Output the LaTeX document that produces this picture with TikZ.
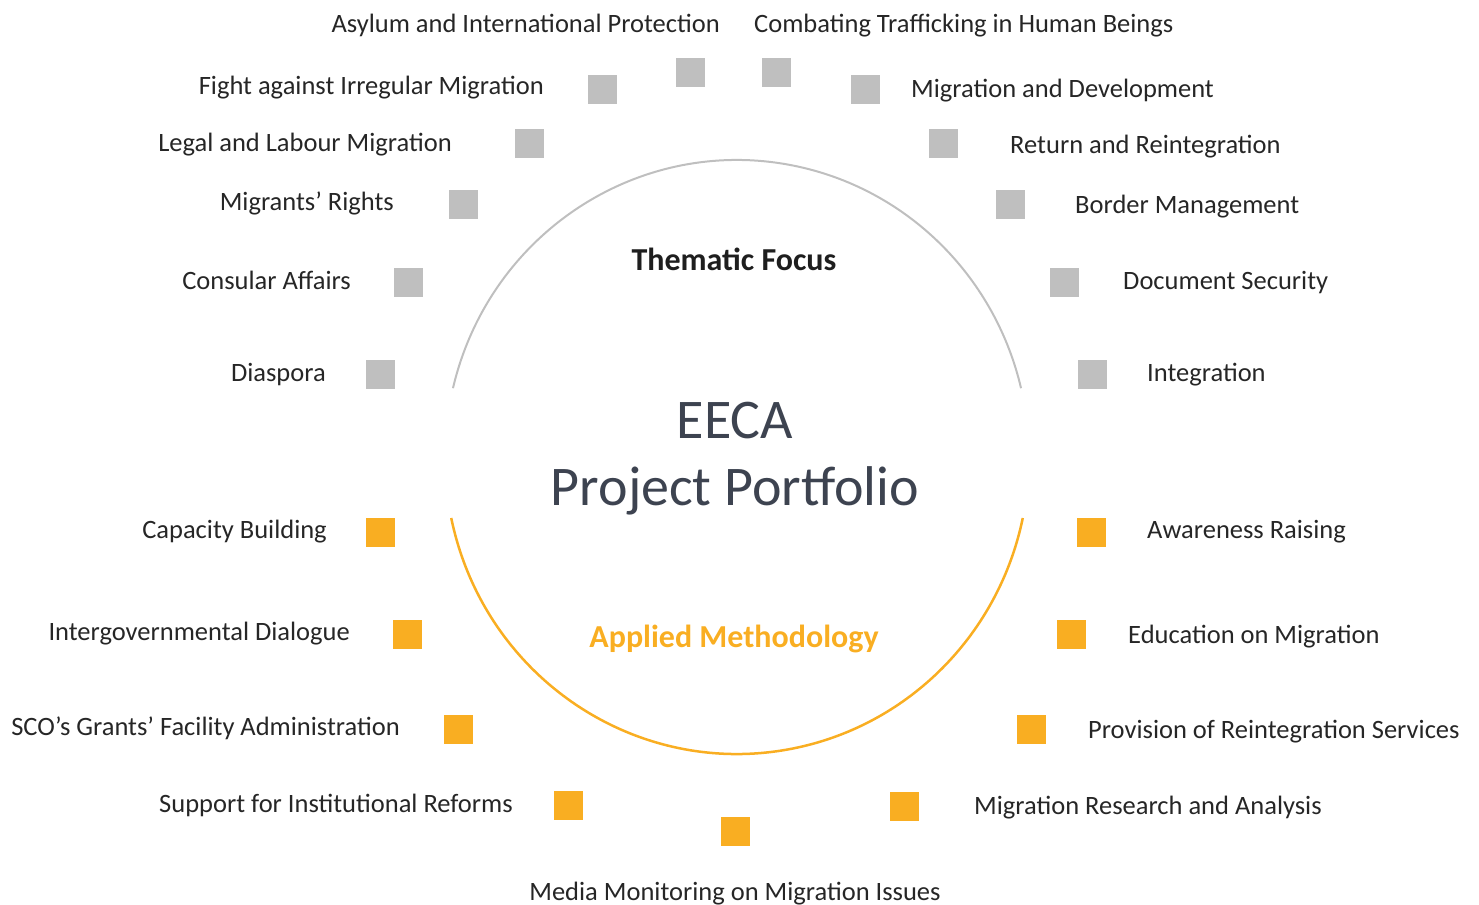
\documentclass[tikz,border=0pt]{standalone}
\usepackage{fontspec}
\setmainfont{Carlito}
\definecolor{sqgray}{HTML}{BFBFBF}
\definecolor{sqorange}{HTML}{F9AE22}
\definecolor{lblcol}{HTML}{262626}
\definecolor{midcol}{HTML}{3D4350}
\begin{document}
\begin{tikzpicture}[x=1pt,y=-1pt,
  lbl/.style={font=\fontsize{26.5}{30}\selectfont, text=lblcol, inner sep=0pt},
  gsq/.style={fill=sqgray, minimum size=29pt, inner sep=0pt, draw=none},
  osq/.style={fill=sqorange, minimum size=29pt, inner sep=0pt, draw=none},
  ttl/.style={font=\fontsize{32}{36}\selectfont\bfseries, inner sep=0pt}]
\useasboundingbox (0,0) rectangle (1479,904);
\coordinate (c) at (737,457);
% arcs
\draw[sqgray, line width=2pt] (c) ++(193.4:292 and 297) arc[start angle=193.4, end angle=346.6, x radius=292, y radius=297];
\draw[sqorange, line width=2.5pt] (c) ++(168.15:292 and 297) arc[start angle=168.15, end angle=11.85, x radius=292, y radius=297];
% center texts
\node[ttl, text=lblcol!80!black, anchor=base] (tf) at (734,270) {Thematic Focus};
\node[font=\fontsize{56}{60}\selectfont, text=midcol, inner sep=0pt, anchor=base] (eeca) at (735,438) {EECA};
\node[font=\fontsize{56}{60}\selectfont, text=midcol, inner sep=0pt, anchor=base] (pp) at (735,505) {Project Portfolio};
\node[ttl, text=sqorange, anchor=base] (am) at (734,647) {Applied Methodology};
% gray squares
\node[gsq] (s1) at (690,73) {};
\node[gsq] (s2) at (776,73) {};
\node[gsq] (s3) at (602,90) {};
\node[gsq] (s4) at (865,90) {};
\node[gsq] (s5) at (529,144) {};
\node[gsq] (s6) at (943,144) {};
\node[gsq] (s7) at (463,204) {};
\node[gsq] (s8) at (1010,204) {};
\node[gsq] (s9) at (408,282) {};
\node[gsq] (s10) at (1064,282) {};
\node[gsq] (s11) at (380,374) {};
\node[gsq] (s12) at (1092,374) {};
% orange squares
\node[osq] (o1) at (380,532) {};
\node[osq] (o2) at (1091,532) {};
\node[osq] (o3) at (407,634) {};
\node[osq] (o4) at (1071,634) {};
\node[osq] (o5) at (458,729) {};
\node[osq] (o6) at (1031,729) {};
\node[osq] (o7) at (568,805) {};
\node[osq] (o8) at (904,806) {};
\node[osq] (o9) at (735,831) {};
% labels
\node[lbl, anchor=base east] (l1) at (720,32.5) {Asylum and International Protection};
\node[lbl, anchor=base west] (l2) at (754,32.5) {Combating Trafficking in Human Beings};
\node[lbl, anchor=base east] (l3) at (544,94.5) {Fight against Irregular Migration};
\node[lbl, anchor=base west] (l4) at (911,97.5) {Migration and Development};
\node[lbl, anchor=base east] (l5) at (452,151.5) {Legal and Labour Migration};
\node[lbl, anchor=base west] (l6) at (1010,153.5) {Return and Reintegration};
\node[lbl, anchor=base east] (l7) at (394,210.5) {Migrants’ Rights};
\node[lbl, anchor=base west] (l8) at (1075,213.5) {Border Management};
\node[lbl, anchor=base east] (l9) at (351,289.5) {Consular Affairs};
\node[lbl, anchor=base west] (l10) at (1123,289.5) {Document Security};
\node[lbl, anchor=base east] (l11) at (326,381.5) {Diaspora};
\node[lbl, anchor=base west] (l12) at (1147,381.5) {Integration};
\node[lbl, anchor=base east] (m1) at (327,538.5) {Capacity Building};
\node[lbl, anchor=base west] (m2) at (1147,538.5) {Awareness Raising};
\node[lbl, anchor=base east] (m3) at (350,640.5) {Intergovernmental Dialogue};
\node[lbl, anchor=base west] (m4) at (1128,643.5) {Education on Migration};
\node[lbl, anchor=base east] (m5) at (400,735.5) {SCO’s Grants’ Facility Administration};
\node[lbl, anchor=base west] (m6) at (1088,738.5) {Provision of Reintegration Services};
\node[lbl, anchor=base east] (m7) at (513,812.5) {Support for Institutional Reforms};
\node[lbl, anchor=base west] (m8) at (974,814.5) {Migration Research and Analysis};
\node[lbl, anchor=base] (m9) at (735,900) {Media Monitoring on Migration Issues};
\end{tikzpicture}
\end{document}
